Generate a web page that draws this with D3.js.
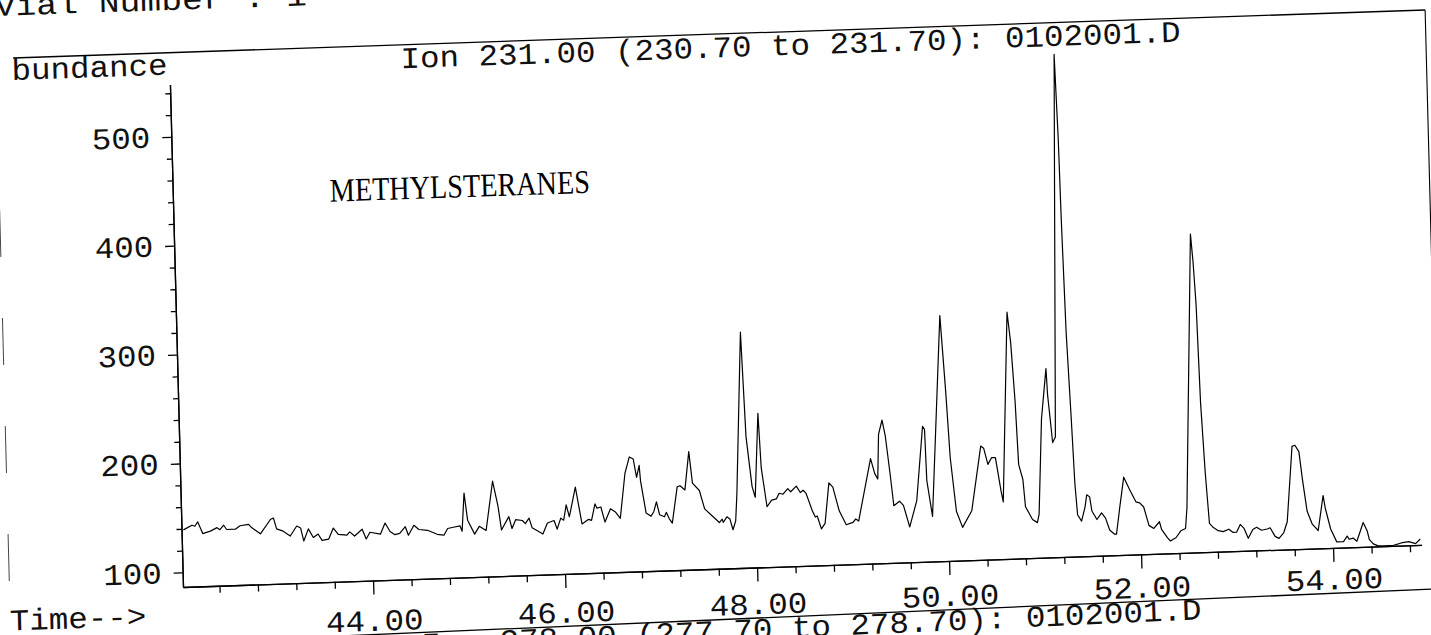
<!DOCTYPE html>
<html>
<head>
<meta charset="utf-8">
<script src="https://cdn.jsdelivr.net/npm/d3@7"></script>
<style>
	body { margin: 0; background: #fff; }
	svg { display: block; }
</style>
</head>
<body>
<div id="chart"></div>
<script>
// retention time (min) and abundance
const times = [
	42.04, 42.13, 42.16, 42.19, 42.24, 42.32, 42.39, 42.42, 42.46, 42.49, 42.58, 42.63, 42.72, 42.75, 42.84,
	42.95, 42.98, 43.01, 43.07, 43.15, 43.22, 43.26, 43.29, 43.34, 43.39, 43.44, 43.48, 43.55, 43.60, 43.65,
	43.74, 43.77, 43.82, 43.90, 43.94, 43.98, 44.09, 44.14, 44.19, 44.24, 44.29, 44.35, 44.38, 44.44, 44.49,
	44.58, 44.68, 44.75, 44.79, 44.85, 44.92, 44.94, 44.97, 45.00, 45.07, 45.12, 45.19, 45.27, 45.32, 45.35,
	45.43, 45.46, 45.50, 45.57, 45.60, 45.64, 45.67, 45.78, 45.83, 45.90, 45.93, 45.97, 46.00, 46.03, 46.06,
	46.13, 46.19, 46.26, 46.29, 46.33, 46.35, 46.39, 46.43, 46.49, 46.54, 46.59, 46.65, 46.70, 46.74, 46.77,
	46.80, 46.81, 46.86, 46.91, 46.94, 46.97, 47.00, 47.05, 47.07, 47.10, 47.13, 47.19, 47.22, 47.27, 47.32,
	47.35, 47.42, 47.47, 47.54, 47.62, 47.65, 47.66, 47.70, 47.73, 47.76, 47.79, 47.81, 47.89, 47.92, 47.97,
	48.00, 48.05, 48.07, 48.12, 48.17, 48.22, 48.25, 48.29, 48.34, 48.37, 48.43, 48.47, 48.50, 48.53, 48.59,
	48.62, 48.64, 48.68, 48.72, 48.77, 48.81, 48.87, 48.94, 49.01, 49.04, 49.07, 49.21, 49.25, 49.28, 49.30,
	49.34, 49.37, 49.41, 49.44, 49.50, 49.54, 49.60, 49.68, 49.76, 49.78, 49.79, 49.84, 49.97, 50.01, 50.04,
	50.09, 50.15, 50.25, 50.36, 50.39, 50.43, 50.47, 50.51, 50.56, 50.58, 50.67, 50.70, 50.73, 50.75, 50.79,
	50.81, 50.88, 50.93, 50.95, 51.00, 51.06, 51.07, 51.11, 51.14, 51.23, 51.25, 51.26, 51.28, 51.31, 51.33,
	51.35, 51.39, 51.43, 51.45, 51.48, 51.50, 51.55, 51.60, 51.64, 51.68, 51.73, 51.75, 51.79, 51.84, 51.90,
	51.96, 52.00, 52.04, 52.09, 52.14, 52.20, 52.22, 52.28, 52.31, 52.37, 52.42, 52.47, 52.49, 52.60, 52.62,
	52.64, 52.66, 52.69, 52.72, 52.76, 52.81, 52.86, 52.92, 52.96, 53.00, 53.04, 53.08, 53.12, 53.17, 53.21,
	53.26, 53.32, 53.35, 53.40, 53.44, 53.49, 53.53, 53.60, 53.63, 53.67, 53.70, 53.74, 53.79, 53.85, 53.91,
	53.93, 53.98, 54.04, 54.11, 54.15, 54.17, 54.21, 54.25, 54.32, 54.36, 54.38, 54.42, 54.47, 54.53, 54.58,
	54.63, 54.71, 54.79, 54.86, 54.91
];
const abundance = [
	139, 143, 142, 146, 135, 137, 140, 138, 142, 138, 138, 141, 142, 139, 133,
	146, 147, 137, 135, 130, 139, 137, 125, 136, 128, 131, 125, 126, 136, 130,
	129, 132, 128, 134, 125, 131, 129, 139, 131, 128, 129, 135, 127, 136, 132,
	131, 127, 126, 132, 133, 134, 129, 164, 139, 126, 133, 129, 174, 151, 129,
	141, 130, 138, 137, 134, 139, 130, 124, 134, 136, 128, 138, 136, 150, 139,
	166, 132, 136, 135, 150, 146, 147, 133, 145, 142, 136, 177, 192, 190, 173,
	184, 170, 140, 137, 141, 150, 138, 136, 140, 134, 130, 163, 164, 160, 195,
	166, 159, 142, 136, 129, 132, 129, 134, 132, 122, 130, 155, 303, 207, 161,
	151, 228, 178, 142, 148, 149, 154, 153, 158, 155, 160, 154, 156, 153, 137,
	131, 132, 120, 125, 162, 158, 136, 123, 125, 128, 126, 183, 169, 164, 205,
	218, 203, 168, 139, 143, 139, 119, 143, 211, 208, 161, 128, 312, 243, 181,
	132, 117, 132, 191, 189, 174, 180, 180, 149, 139, 313, 285, 231, 173, 159,
	134, 122, 119, 127, 214, 260, 236, 192, 197, 548, 471, 396, 293, 213, 154,
	125, 119, 132, 143, 141, 128, 120, 126, 121, 110, 106, 106, 130, 158, 146,
	135, 134, 130, 113, 110, 116, 109, 101, 98, 101, 107, 109, 128, 379, 353,
	314, 224, 159, 113, 109, 106, 105, 107, 104, 104, 111, 107, 98, 106, 108,
	105, 106, 107, 99, 97, 102, 112, 181, 182, 176, 150, 121, 109, 103, 135,
	123, 104, 92, 92, 97, 94, 95, 92, 109, 101, 93, 89, 87, 87, 87,
	87, 89, 90, 88, 92
];

const timeDomain = [42.02, 54.92];
const abundanceDomain = [86.6, 548];
const yMajorTicks = [100, 200, 300, 400, 500];
const yMinorTicks = [120, 140, 160, 180, 220, 240, 260, 280, 320, 340, 360, 380, 420, 440, 460, 480, 520, 540];
const xMajorTicks = [44, 46, 48, 50, 52, 54];
const xMinorTicks = [42.4, 42.8, 43.2, 43.6, 44.4, 44.8, 45.2, 45.6, 46.4, 46.8, 47.2, 47.6, 48.4, 48.8, 49.2, 49.6,
	50.4, 50.8, 51.2, 51.6, 52.4, 52.8, 53.2, 53.6, 54.4, 54.8];

const vialText = "Vial Number  : 1";
const yLabel = "bundance";
const xLabel = "Time-->";
const title = "Ion 231.00 (230.70 to 231.70): 0102001.D";
const nextTitle = "Ion 278.00 (277.70 to 278.70): 0102001.D";
const annotation = "METHYLSTERANES";

const width = 1431;
const height = 635;
const mono = "'Liberation Mono', 'Courier New', monospace";
const charW = 19.5;

const svg = d3.select("#chart")
	.append("svg")
	.attr("width", width)
	.attr("height", height);

// the page was scanned slightly crooked, so the whole sheet is sheared a little
const page = svg.append("g")
	.attr("transform", "matrix(1,-0.034,0.026,1,-15.26,6.22)");

const left = 183, bottom = 587;
const x = d3.scaleLinear()
	.domain(timeDomain)
	.range([left, left + (timeDomain[1] - timeDomain[0]) * 96]);
const y = d3.scaleLinear()
	.domain(abundanceDomain)
	.range([bottom, bottom - (abundanceDomain[1] - abundanceDomain[0]) * 1.089]);

// the lower part of the sheet sits a bit more crooked than the rest
const lowSlope = 0.009;

const monoText = (sel, str, size) => sel
	.attr("font-family", mono)
	.attr("font-size", size || 30)
	.attr("fill", "#111")
	.attr("textLength", str.length * charW)
	.attr("lengthAdjust", "spacingAndGlyphs")
	.text(str);

// frame lines of the printout
page.append("line")
	.attr("x1", 27).attr("x2", 1439).attr("y1", 52.7).attr("y2", 52.7)
	.attr("stroke", "#000").attr("stroke-width", 1.3);
page.append("line")
	.attr("x1", 1439).attr("x2", 1439).attr("y1", 52.7).attr("y2", 300)
	.attr("stroke", "#000").attr("stroke-width", 1.1);
page.append("line")
	.attr("x1", 9.6).attr("x2", 9.6).attr("y1", 204).attr("y2", 575)
	.attr("stroke", "#444").attr("stroke-width", 1)
	.attr("stroke-dasharray", "47,61");
page.append("line")
	.attr("x1", 172).attr("x2", 1470)
	.attr("y1", 641 + lowSlope * (372 - 172)).attr("y2", 641 - lowSlope * (1470 - 372))
	.attr("stroke", "#000").attr("stroke-width", 1.3);

page.append("text").attr("x", 10).attr("y", 10).call(monoText, vialText);
page.append("text").attr("x", 25).attr("y", 74.6).call(monoText, yLabel);
page.append("text").attr("x", 414).attr("y", 76).call(monoText, title);
page.append("text").attr("x", 9).attr("y", 624.6).call(monoText, xLabel);
page.append("text")
	.attr("transform", "translate(420,662) rotate(-0.6)")
	.call(monoText, nextTitle);

page.append("text")
	.attr("x", 340)
	.attr("y", 207)
	.attr("font-family", "'Liberation Serif', 'Times New Roman', serif")
	.attr("font-size", 33)
	.attr("textLength", 260)
	.attr("lengthAdjust", "spacingAndGlyphs")
	.attr("fill", "#000")
	.text(annotation);

// axes: minor ticks first, then labelled major ticks
const styleAxis = (g) => {
	g.selectAll("path, line").attr("stroke", "#000").attr("stroke-width", 1.3);
	g.selectAll("text").each(function () {
		d3.select(this).call(monoText, this.textContent);
	});
};

page.append("g")
	.attr("transform", `translate(${left},0)`)
	.call(d3.axisLeft(y).tickValues(yMinorTicks).tickSize(5).tickSizeOuter(0).tickFormat(""))
	.call(styleAxis);
page.append("g")
	.attr("transform", `translate(${left},0)`)
	.call(d3.axisLeft(y).tickValues(yMajorTicks).tickSize(9).tickSizeOuter(0).tickPadding(12))
	.call(styleAxis);

page.append("g")
	.attr("transform", `translate(0,${bottom})`)
	.call(d3.axisBottom(x).tickValues(xMinorTicks).tickSize(7).tickSizeOuter(0).tickFormat(""))
	.call(styleAxis);
const xMajor = page.append("g")
	.attr("transform", `translate(0,${bottom})`)
	.call(d3.axisBottom(x).tickValues(xMajorTicks).tickSize(14).tickSizeOuter(0).tickPadding(15)
		.tickFormat(d3.format(".2f")))
	.call(styleAxis);
xMajor.selectAll(".tick text")
	.attr("y", (d) => 29 - lowSlope * (x(d) - 372));

page.selectAll(".domain").attr("fill", "none");

// chromatogram trace
const trace = d3.line()
	.x((d, i) => x(times[i]))
	.y((d) => y(d));

page.append("path")
	.datum(abundance)
	.attr("fill", "none")
	.attr("stroke", "#000")
	.attr("stroke-width", 1.2)
	.attr("stroke-linejoin", "round")
	.attr("d", trace);
</script>
</body>
</html>
